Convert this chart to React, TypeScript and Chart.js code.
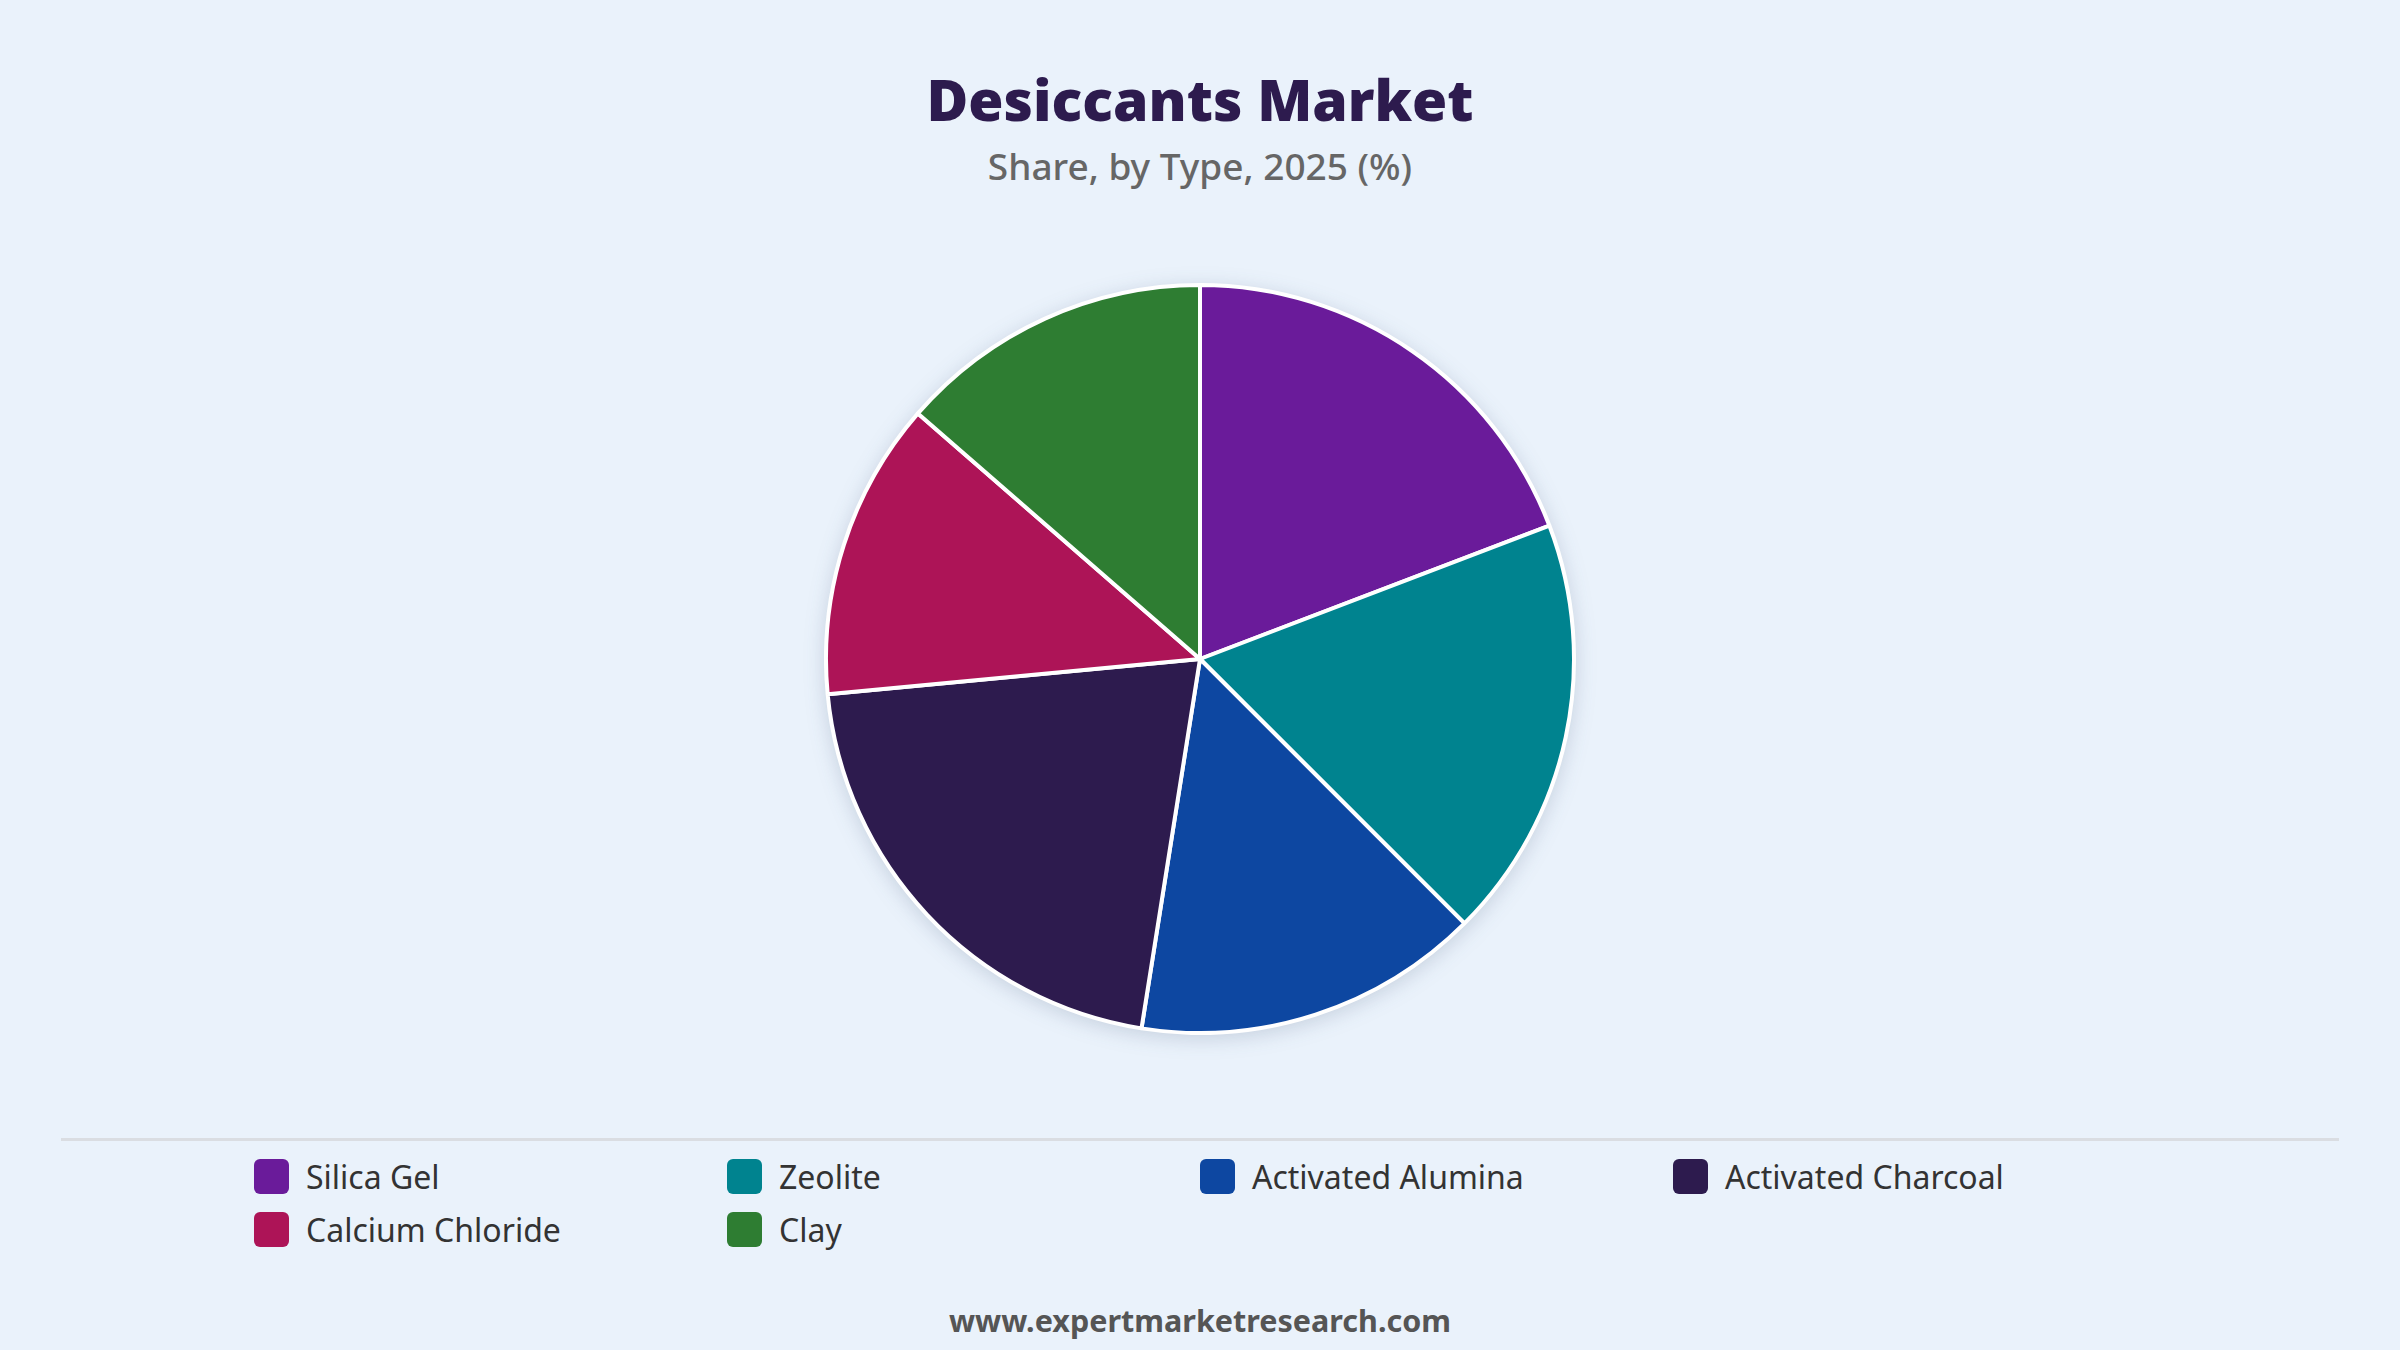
import React, { useEffect, useRef } from "react";
import { Chart, registerables } from "chart.js";

Chart.register(...registerables);

const categories = [
  "Silica Gel",
  "Zeolite",
  "Activated Alumina",
  "Activated Charcoal",
  "Calcium Chloride",
  "Clay",
];
const shareValues = [19.2, 18.3, 15.0, 21.0, 12.9, 13.6];
const sliceColors = ["#6A1B9A", "#00838F", "#0D47A1", "#2D1B4E", "#AD1457", "#2E7D32"];

const titleText = "Desiccants Market";
const subtitleText = "Share, by Type, 2025 (%)";
const footerText = "www.expertmarketresearch.com";

const FONT = "'Noto Sans', 'Open Sans', sans-serif";

export default function App() {
  const canvasRef = useRef<HTMLCanvasElement | null>(null);

  useEffect(() => {
    if (!canvasRef.current) return;
    const chart = new Chart(canvasRef.current, {
      type: "pie",
      data: {
        labels: categories,
        datasets: [
          {
            data: shareValues,
            backgroundColor: sliceColors,
            borderColor: "#ffffff",
            borderWidth: 4,
            hoverOffset: 0,
          },
        ],
      },
      options: {
        responsive: true,
        maintainAspectRatio: false,
        animation: false,
        layout: { padding: 0 },
        plugins: {
          legend: { display: false },
          tooltip: { enabled: false },
          title: { display: false },
        },
      },
    });
    return () => chart.destroy();
  }, []);

  return (
    <div
      style={{
        position: "absolute",
        left: 0,
        top: 0,
        width: 2400,
        height: 1350,
        background: "#EAF2FB",
        fontFamily: FONT,
        overflow: "hidden",
      }}
    >
      <div
        style={{
          position: "absolute",
          top: 60,
          left: 0,
          width: 2400,
          textAlign: "center",
          fontSize: 57,
          fontWeight: 900,
          color: "#2D1B4E",
          lineHeight: "78px",
        }}
      >
        {titleText}
      </div>
      <div
        style={{
          position: "absolute",
          top: 141,
          left: 0,
          width: 2400,
          textAlign: "center",
          fontSize: 37,
          fontWeight: 500,
          color: "#666666",
          lineHeight: "50px",
        }}
      >
        {subtitleText}
      </div>
      <div
        style={{
          position: "absolute",
          left: 824,
          top: 283,
          width: 752,
          height: 752,
          filter: "drop-shadow(0px 4px 10px rgba(40,60,100,0.18))",
        }}
      >
        <canvas ref={canvasRef} />
      </div>
      <div
        style={{
          position: "absolute",
          left: 61,
          top: 1138,
          width: 2278,
          height: 3,
          background: "#DADDE2",
        }}
      />
      <div
        style={{
          position: "absolute",
          left: 254,
          top: 1150,
          width: 1900,
          display: "grid",
          gridTemplateColumns: "473px 473px 473px 473px",
          rowGap: 0,
        }}
      >
        {categories.map((c, i) => (
          <div
            key={c}
            style={{ display: "flex", alignItems: "center", height: 53 }}
          >
            <div
              style={{
                width: 35,
                height: 35,
                borderRadius: 6,
                background: sliceColors[i],
                marginRight: 17,
                flex: "0 0 auto",
              }}
            />
            <span style={{ fontSize: 32, color: "#333333" }}>{c}</span>
          </div>
        ))}
      </div>
      <div
        style={{
          position: "absolute",
          top: 1299,
          left: 0,
          width: 2400,
          textAlign: "center",
          fontSize: 30.5,
          fontWeight: 700,
          color: "#555555",
          lineHeight: "42px",
        }}
      >
        {footerText}
      </div>
    </div>
  );
}
